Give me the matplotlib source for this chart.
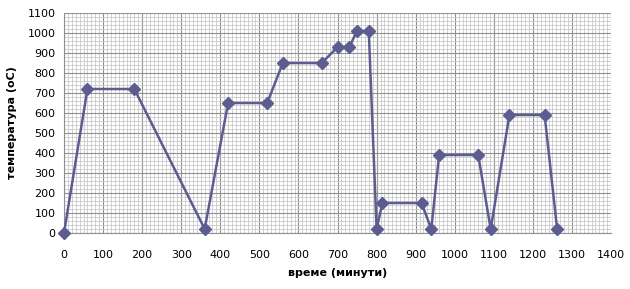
import matplotlib
matplotlib.use('Agg')
import matplotlib.pyplot as plt
from matplotlib.ticker import MultipleLocator

# time (minutes) and temperature (oC)
vreme = [0, 60, 180, 360, 420, 520, 560, 660, 700, 730, 750, 780, 800, 815, 915, 940, 960, 1060, 1092, 1140, 1230, 1262]
temperatura = [0, 720, 720, 20, 650, 650, 850, 850, 930, 930, 1010, 1010, 20, 150, 150, 20, 390, 390, 20, 590, 590, 20]

fig = plt.figure(figsize=(6.3, 2.89), dpi=100)
ax = fig.add_axes([0.1016, 0.1938, 0.8683, 0.7612])

ax.plot(vreme, temperatura, '-D', color='#5c5c90', markerfacecolor='#5c5c90',
        markeredgecolor='#5c5c90', markersize=6, linewidth=1.8, zorder=3, clip_on=False)

ax.set_xlim(0, 1400)
ax.set_ylim(0, 1100)
ax.xaxis.set_major_locator(MultipleLocator(100))
ax.yaxis.set_major_locator(MultipleLocator(100))
ax.xaxis.set_minor_locator(MultipleLocator(10))
ax.yaxis.set_minor_locator(MultipleLocator(20))
ax.grid(which='minor', color='#cacaca', linewidth=0.6)
ax.grid(which='major', color='#909090', linewidth=0.8)
ax.set_axisbelow(True)
for s in ax.spines.values():
    s.set_visible(False)
ax.spines['left'].set_visible(True)
ax.spines['bottom'].set_visible(True)
ax.spines['left'].set_color('#909090')
ax.spines['bottom'].set_color('#909090')
ax.tick_params(which='both', length=0)
ax.tick_params(axis='x', labelsize=8, pad=12)
ax.tick_params(axis='y', labelsize=8, pad=6)

ax.set_xlabel('време (минути)', fontsize=8, fontweight='bold', labelpad=6)
ax.set_ylabel('температура (oC)', fontsize=8, fontweight='bold', labelpad=8)

fig.savefig('out.png', dpi=100)
